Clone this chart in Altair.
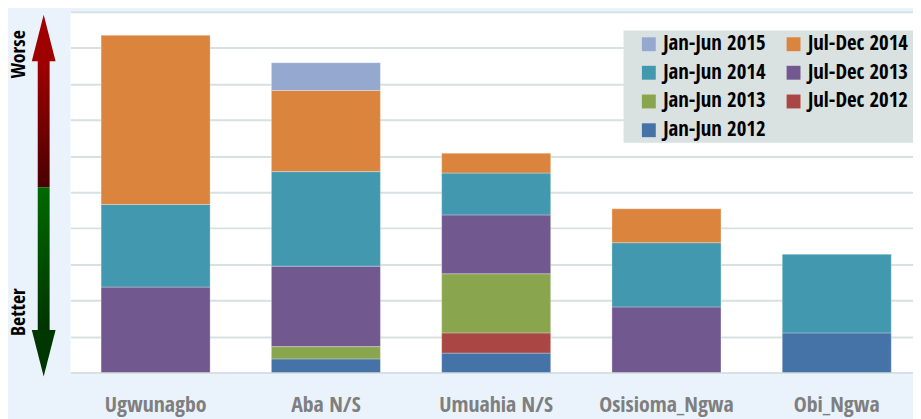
import altair as alt
import pandas as pd

categories = ["Ugwunagbo", "Aba N/S", "Umuahia N/S", "Osisioma_Ngwa", "Obi_Ngwa"]
periods = ["Jan-Jun 2012", "Jul-Dec 2012", "Jan-Jun 2013", "Jul-Dec 2013",
           "Jan-Jun 2014", "Jul-Dec 2014", "Jan-Jun 2015"]
colors = ["#4572A7", "#AA4643", "#89A54E", "#71588F", "#4198AF", "#DB843D", "#95A9D0"]

# values per period, one entry per category (order of `categories`)
jan_jun_2012 = [0.00, 0.38, 0.54, 0.00, 1.10]
jul_dec_2012 = [0.00, 0.00, 0.56, 0.00, 0.00]
jan_jun_2013 = [0.00, 0.34, 1.64, 0.00, 0.00]
jul_dec_2013 = [2.37, 2.23, 1.63, 1.82, 0.00]
jan_jun_2014 = [2.29, 2.62, 1.16, 1.78, 2.18]
jul_dec_2014 = [4.69, 2.25, 0.55, 0.94, 0.00]
jan_jun_2015 = [0.00, 0.77, 0.00, 0.00, 0.00]

series = [jan_jun_2012, jul_dec_2012, jan_jun_2013, jul_dec_2013,
          jan_jun_2014, jul_dec_2014, jan_jun_2015]

rows = []
for i, (p, vals) in enumerate(zip(periods, series)):
    for c, v in zip(categories, vals):
        if v > 0:
            rows.append({"site": c, "period": p, "value": v, "idx": i})
df = pd.DataFrame(rows)

FONT = "'Open Sans Condensed', 'Noto Sans Condensed', 'Liberation Sans Narrow', 'DejaVu Sans Condensed', sans-serif"

# legend fills column by column
legend_order = ["Jan-Jun 2015", "Jan-Jun 2014", "Jan-Jun 2013", "Jan-Jun 2012",
                "Jul-Dec 2014", "Jul-Dec 2013", "Jul-Dec 2012"]
color_map = dict(zip(periods, colors))
legend_colors = [color_map[p] for p in legend_order]

bars = alt.Chart(df).mark_bar(stroke="white", strokeWidth=0.6, strokeOpacity=0.5).encode(
    x=alt.X("site:N", sort=categories, title=None,
            scale=alt.Scale(paddingInner=0.3597, paddingOuter=0.18),
            axis=alt.Axis(labelAngle=0, ticks=False, domain=False, labelColor="#7F7F7F",
                          labelFontSize=22, labelFontWeight="bold", labelFont=FONT,
                          labelPadding=22, grid=False)),
    y=alt.Y("value:Q", stack="zero", title=None,
            scale=alt.Scale(domain=[0, 10], nice=False),
            axis=alt.Axis(values=list(range(11)), labels=False, ticks=False, domain=False,
                          grid=True, gridColor="#D7E1E1", gridWidth=2)),
    color=alt.Color("period:N", scale=alt.Scale(domain=legend_order, range=legend_colors),
                    legend=alt.Legend(title=None, orient="none", legendX=561, legendY=19,
                                      columns=2, padding=3,
                                      symbolOffset=9, symbolType="square", symbolSize=196,
                                      symbolStrokeWidth=0, labelFontSize=21,
                                      labelFontWeight="bold", labelFont=FONT,
                                      labelColor="#000000", labelOffset=4,
                                      rowPadding=7, columnPadding=8)),
    order=alt.Order("idx:Q", sort="ascending"),
)

one = alt.Data(values=[{"a": 1}])

legend_box = alt.Chart(one).mark_rect(color="#D9E1E1").encode(
    x=alt.value(558), x2=alt.value(862), y=alt.value(19), y2=alt.value(132))

red_grad = alt.LinearGradient(gradient="linear",
                              stops=[alt.GradientStop(color="#A00000", offset=0),
                                     alt.GradientStop(color="#4A0000", offset=1)],
                              x1=0, x2=0, y1=0, y2=1)
green_grad = alt.LinearGradient(gradient="linear",
                                stops=[alt.GradientStop(color="#006A00", offset=0),
                                       alt.GradientStop(color="#003300", offset=1)],
                                x1=0, x2=0, y1=0, y2=1)

shaft_top = alt.Chart(one).mark_rect(color=red_grad).encode(
    x=alt.value(-33), x2=alt.value(-21), y=alt.value(49), y2=alt.value(177))
shaft_bot = alt.Chart(one).mark_rect(color=green_grad).encode(
    x=alt.value(-33), x2=alt.value(-21), y=alt.value(177), y2=alt.value(322))

head_up = alt.Chart(one).mark_point(shape="M0,-1L0.51,1L-0.51,1Z", size=2209, filled=True,
                                    opacity=1, color="#9E0000", strokeWidth=0).encode(
    x=alt.value(-27), y=alt.value(26.5))
head_down = alt.Chart(one).mark_point(shape="M0,1L0.51,-1L-0.51,-1Z", size=2209, filled=True,
                                      opacity=1, color="#003600", strokeWidth=0).encode(
    x=alt.value(-27), y=alt.value(344.5))

worse = alt.Chart(one).mark_text(text="Worse", angle=270, fontSize=20, fontWeight="bold",
                                 font=FONT, color="#000000", align="center",
                                 baseline="middle").encode(x=alt.value(-52), y=alt.value(43))
better = alt.Chart(one).mark_text(text="Better", angle=270, fontSize=20, fontWeight="bold",
                                  font=FONT, color="#000000", align="center",
                                  baseline="middle").encode(x=alt.value(-52), y=alt.value(303))

chart = alt.layer(bars, legend_box, shaft_top, shaft_bot, head_up, head_down, worse, better).properties(
    width=859, height=364,
    background="#EAF3FC",
    padding={"left": 63, "top": 2, "right": -9, "bottom": 45},
    autosize=alt.AutoSizeParams(type="none"),
).configure_view(fill="white", stroke=None)

chart.save("out.html", embed_options={"renderer": "svg", "actions": False})
